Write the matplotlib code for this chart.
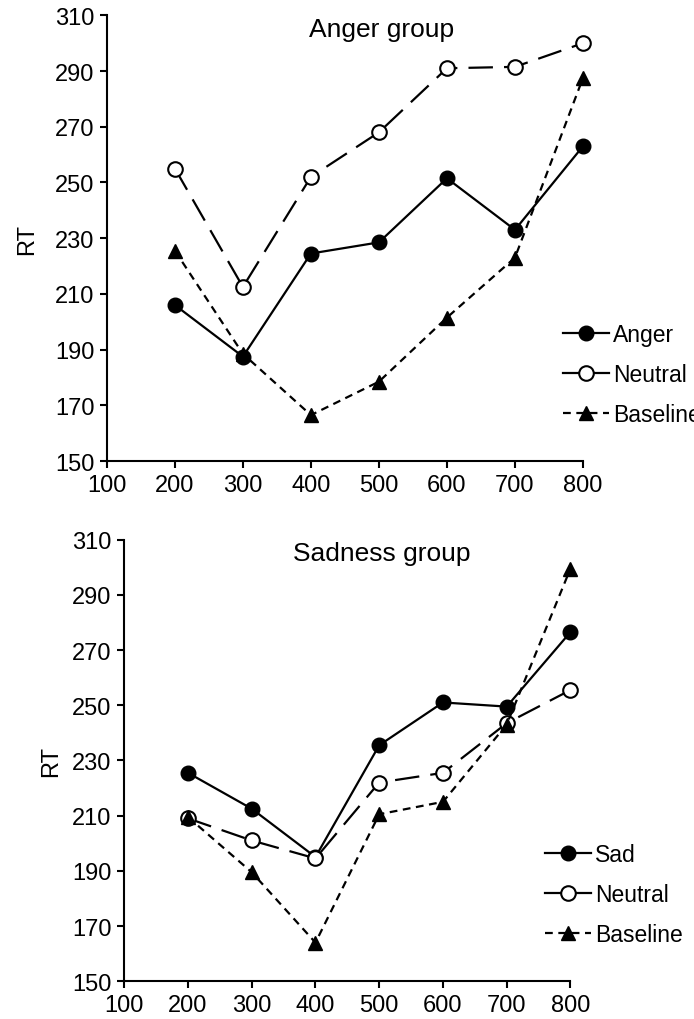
import matplotlib.pyplot as plt

# SOA values (x axis)
soa = [200, 300, 400, 500, 600, 700, 800]

# Anger group
anger_emotion = [206, 187.5, 224.5, 228.5, 251.5, 233, 263]
anger_neutral = [255, 212.5, 252, 268, 291, 291.5, 300]
anger_baseline = [225.5, 188.5, 166.5, 178.5, 201.5, 223, 287.5]

# Sadness group
sad_emotion = [225.5, 212.5, 195, 235.5, 251, 249.5, 276.5]
sad_neutral = [209, 201, 194.5, 222, 225.5, 243.5, 255.5]
sad_baseline = [209.5, 189.5, 164, 210.5, 215, 243, 299.5]

yticks = [150, 170, 190, 210, 230, 250, 270, 290, 310]
xticks = [100, 200, 300, 400, 500, 600, 700, 800]

plt.rcParams['font.family'] = ['Liberation Sans', 'DejaVu Sans']

fig = plt.figure(figsize=(6.94, 10.2), dpi=100)


def draw_panel(ax, emo, neu, base, emo_label, title, legend_pos, ylabel_x):
    ax.plot(soa, emo, color='black', linestyle='-', linewidth=1.6,
            marker='o', markersize=10.5, markerfacecolor='black',
            label=emo_label, clip_on=False, zorder=3)
    ax.plot(soa, neu, color='black', linestyle=(0, (11, 5)), linewidth=1.6,
            marker='o', markersize=10.5, markerfacecolor='white',
            markeredgewidth=1.5, label='Neutral', clip_on=False, zorder=3)
    ax.plot(soa, base, color='black', linestyle=(0, (3.5, 2.5)), linewidth=1.6,
            marker='^', markersize=10.5, markerfacecolor='black',
            label='Baseline', clip_on=False, zorder=3)

    ax.set_xlim(100, 800)
    ax.set_ylim(150, 310)
    ax.set_xticks(xticks)
    ax.set_yticks(yticks)
    ax.tick_params(labelsize=17, direction='out', length=5, width=1.5, pad=4)
    for side in ['top', 'right']:
        ax.spines[side].set_visible(False)
    for side in ['left', 'bottom']:
        ax.spines[side].set_linewidth(1.5)

    ax.set_ylabel('RT', fontsize=17)
    ax.yaxis.set_label_coords(ylabel_x, 0.5)
    ax.text(0.578, 0.97, title, transform=ax.transAxes, ha='center', va='center',
            fontsize=19)

    handles, labels = ax.get_legend_handles_labels()
    ax.legend(handles, labels, loc='center left', bbox_to_anchor=legend_pos,
              bbox_transform=fig.transFigure, frameon=False, fontsize=16.5,
              handlelength=2.0, handletextpad=0.2, labelspacing=0.75,
              borderaxespad=0)


ax1 = fig.add_axes([0.154, 0.547, 0.686, 0.437])
draw_panel(ax1, anger_emotion, anger_neutral, anger_baseline, 'Anger',
           'Anger group', (0.798, 0.632), -0.145)

ax2 = fig.add_axes([0.179, 0.037, 0.643, 0.433])
draw_panel(ax2, sad_emotion, sad_neutral, sad_baseline, 'Sad',
           'Sadness group', (0.772, 0.122), -0.14)

# legend handle for neutral is drawn solid in the reference
for ax in [ax1, ax2]:
    leg = ax.get_legend()
    leg.get_lines()[1].set_linestyle('-')

fig.savefig('out.png', dpi=100)
